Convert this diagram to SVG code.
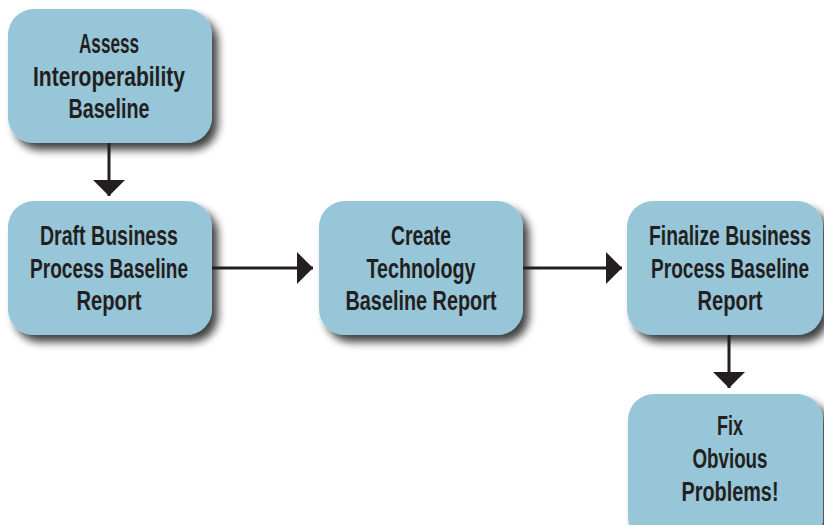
<svg xmlns="http://www.w3.org/2000/svg" width="824" height="525" viewBox="0 0 824 525">
<defs>
<filter id="sh" x="-20%" y="-20%" width="150%" height="150%">
<feGaussianBlur in="SourceAlpha" stdDeviation="4"/>
<feOffset dx="6" dy="7" result="b"/>
<feComponentTransfer><feFuncA type="linear" slope="0.75"/></feComponentTransfer>
<feMerge><feMergeNode/><feMergeNode in="SourceGraphic"/></feMerge>
</filter>
<marker id="ah" viewBox="0 0 16 32" refX="16" refY="16" markerWidth="16" markerHeight="32" markerUnits="userSpaceOnUse" orient="auto">
<path d="M0,0 L16,16 L0,32 Z" fill="#231f20"/>
</marker>
<style>
.box{fill:#97c6d9;filter:url(#sh)}
.t{font-family:"Liberation Sans",Arial,sans-serif;font-weight:bold;font-size:27px;fill:#231f20;text-anchor:middle}
.c{stroke:#231f20;stroke-width:3;fill:none;marker-end:url(#ah)}
</style>
</defs>
<rect width="824" height="525" fill="#ffffff"/>
<g id="n1"><rect class="box" x="8" y="9" width="204" height="134" rx="26"/>
<text class="t" x="109" y="53" textLength="60" lengthAdjust="spacingAndGlyphs">Assess</text>
<text class="t" x="109" y="86" textLength="152" lengthAdjust="spacingAndGlyphs">Interoperability</text>
<text class="t" x="109" y="118" textLength="81" lengthAdjust="spacingAndGlyphs">Baseline</text></g>
<g id="n2"><rect class="box" x="8" y="201" width="204" height="134" rx="26"/>
<text class="t" x="109" y="245" textLength="138" lengthAdjust="spacingAndGlyphs">Draft Business</text>
<text class="t" x="109" y="278" textLength="158" lengthAdjust="spacingAndGlyphs">Process Baseline</text>
<text class="t" x="109" y="310" textLength="65" lengthAdjust="spacingAndGlyphs">Report</text></g>
<g id="n3"><rect class="box" x="319" y="201" width="204" height="134" rx="26"/>
<text class="t" x="421" y="245" textLength="60" lengthAdjust="spacingAndGlyphs">Create</text>
<text class="t" x="421" y="278" textLength="109" lengthAdjust="spacingAndGlyphs">Technology</text>
<text class="t" x="421" y="310" textLength="151" lengthAdjust="spacingAndGlyphs">Baseline Report</text></g>
<g id="n4"><rect class="box" x="627" y="201" width="196" height="134" rx="26"/>
<text class="t" x="730" y="245" textLength="162" lengthAdjust="spacingAndGlyphs">Finalize Business</text>
<text class="t" x="730" y="278" textLength="158" lengthAdjust="spacingAndGlyphs">Process Baseline</text>
<text class="t" x="730" y="310" textLength="65" lengthAdjust="spacingAndGlyphs">Report</text></g>
<g id="n5"><rect class="box" x="628" y="394" width="195" height="150" rx="26"/>
<text class="t" x="730" y="435" textLength="26" lengthAdjust="spacingAndGlyphs">Fix</text>
<text class="t" x="730" y="468" textLength="75" lengthAdjust="spacingAndGlyphs">Obvious</text>
<text class="t" x="730" y="501" textLength="97" lengthAdjust="spacingAndGlyphs">Problems!</text></g>
<g id="connectors">
<path class="c" d="M109,143 V196"/>
<path class="c" d="M212,268 H313"/>
<path class="c" d="M523,268 H622"/>
<path class="c" d="M729,335 V388"/>
</g>
</svg>
